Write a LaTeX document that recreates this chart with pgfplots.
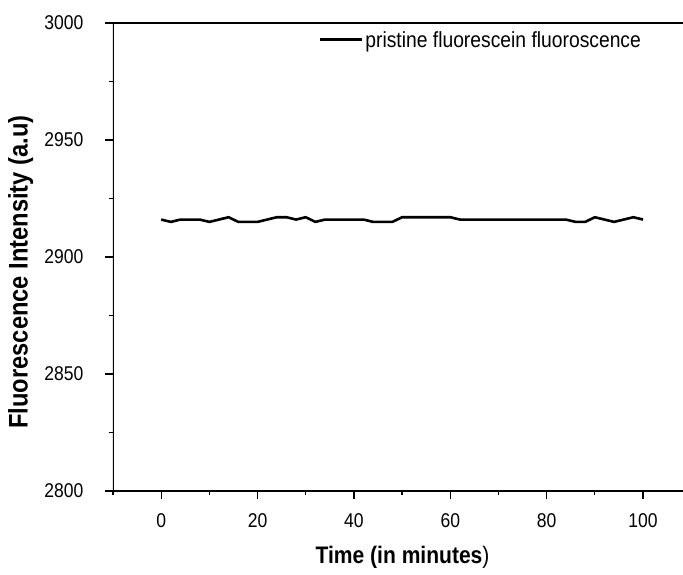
\documentclass[border=0pt]{standalone}
\usepackage{fontspec}
\setmainfont{Liberation Sans}[FakeStretch=0.88]
\usepackage{pgfplots}
\pgfplotsset{compat=1.18}
\usetikzlibrary{calc}

\pgfplotstableread{
t I
0 2916
2 2915
4 2916
6 2916
8 2916
10 2915
12 2916
14 2917
16 2915
18 2915
20 2915
22 2916
24 2917
26 2917
28 2916
30 2917
32 2915
34 2916
36 2916
38 2916
40 2916
42 2916
44 2915
46 2915
48 2915
50 2917
52 2917
54 2917
56 2917
58 2917
60 2917
62 2916
64 2916
66 2916
68 2916
70 2916
72 2916
74 2916
76 2916
78 2916
80 2916
82 2916
84 2916
86 2915
88 2915
90 2917
92 2916
94 2915
96 2916
98 2917
100 2916
}\fluo

\begin{document}
\begin{tikzpicture}
  \begin{axis}[
    scale only axis,
    width=570bp, height=468bp,
    xmin=-10, xmax=108.3,
    ymin=2800, ymax=3000,
    xtick={0,20,...,100},
    minor xtick={-10,10,...,90},
    ytick={2800,2850,...,3000},
    minor ytick={2825,2875,...,2975},
    xtick pos=bottom, ytick pos=left,
    tick align=outside,
    major tick length=8bp, minor tick length=4bp,
    every tick/.style={black, line width=1.2bp},
    axis line style={draw=none},
    /pgf/number format/assume math mode=true,
    /pgf/number format/1000 sep={},
    tick label style={font=\fontsize{20}{20}\selectfont},
    xticklabel style={yshift=-11bp},
    yticklabel style={xshift=-18bp},
    xlabel={\textbf{Time (in minutes})},
    ylabel={\textbf{Fluorescence Intensity (a.u)}},
    every axis x label/.style={at={(axis description cs:0.508,-0.141)}, anchor=center,
      font=\fontsize{24}{24}\selectfont},
    every axis y label/.style={at={(axis description cs:-0.162,0.468)}, rotate=90, anchor=center,
      font=\fontsize{27}{27}\selectfont},
    legend style={draw=none, fill=none, inner sep=0pt,
      at={(axis description cs:0.36,0.9637)}, anchor=west,
      font=\fontsize{22}{22}\selectfont},
    legend cell align=left,
    legend image code/.code={\draw[line width=3bp] (0bp,0bp) -- (42bp,0bp);},
  ]
    \addplot[black, line width=2.6bp, line join=round] table[x=t, y=I] {\fluo};
    \addlegendentry{pristine fluorescein fluoroscence}
    \draw[black, line width=1.3bp]
      (rel axis cs:1,1) -- (rel axis cs:0,1) -- (rel axis cs:0,0) -- (rel axis cs:1,0);
  \end{axis}
  \pgfresetboundingbox
  \useasboundingbox ($(current axis.south west)+(-113bp,-84bp)$)
    rectangle ($(current axis.north east)+(0bp,23bp)$);
\end{tikzpicture}
\end{document}
